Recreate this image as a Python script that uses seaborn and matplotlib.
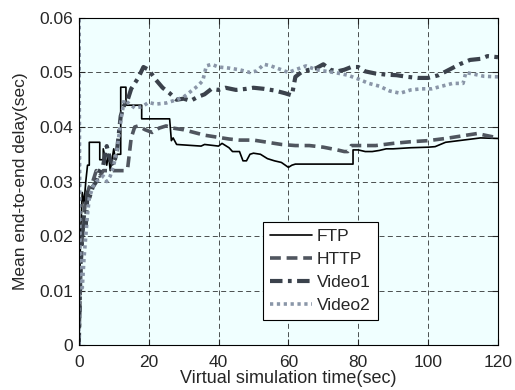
import pandas as pd
import matplotlib
matplotlib.use("Agg")
import matplotlib.pyplot as plt
import seaborn as sns

# series data (time in sec, mean end-to-end delay in sec)
ftp_t = [0, 0.5, 1, 1.5, 2, 2.5, 3, 3, 6, 6, 7, 7, 8, 8.5, 9, 9.5, 10, 10.5, 11, 12, 12,
         13.5, 13.5, 18, 18, 26, 26.5, 27, 28, 35, 36, 40, 41, 43, 44, 46, 47, 48, 49, 50,
         52, 54, 56, 58, 60, 61, 62, 78.5, 78.5, 80, 82, 84, 86, 88, 90, 95, 100, 102, 105,
         110, 115, 120]
ftp_v = [0.0, 0.02, 0.028, 0.026, 0.03, 0.033, 0.033, 0.0372, 0.0372, 0.034, 0.034, 0.036,
         0.033, 0.035, 0.032, 0.034, 0.036, 0.034, 0.035, 0.035, 0.0473, 0.0473, 0.044, 0.044,
         0.0415, 0.0415, 0.0375, 0.038, 0.0368, 0.0365, 0.0368, 0.0365, 0.037, 0.0362, 0.0355,
         0.0355, 0.0338, 0.0338, 0.035, 0.0352, 0.035, 0.0342, 0.0338, 0.0335, 0.0326, 0.033,
         0.0332, 0.0332, 0.0358, 0.0358, 0.0355, 0.0355, 0.0357, 0.036, 0.036, 0.0362, 0.0363,
         0.0364, 0.0372, 0.0376, 0.038, 0.0379]

http_t = [0, 0.5, 1, 1.5, 2, 3, 4, 5, 6, 7, 9, 11, 13, 14, 15, 16, 17, 19, 21, 23, 25, 27,
          30, 33, 36, 40, 43, 46, 50, 54, 58, 62, 66, 70, 74, 76, 77, 78, 81, 85, 90, 95,
          100, 105, 110, 114, 117, 120]
http_v = [0.0, 0.012, 0.02, 0.024, 0.027, 0.029, 0.03, 0.032, 0.031, 0.032, 0.032, 0.032,
          0.032, 0.0325, 0.038, 0.04, 0.0402, 0.0395, 0.039, 0.0398, 0.0402, 0.0398, 0.0395,
          0.039, 0.0385, 0.0381, 0.0378, 0.0376, 0.0376, 0.0372, 0.0368, 0.0366, 0.0366,
          0.0363, 0.0358, 0.0355, 0.0355, 0.0366, 0.0366, 0.0366, 0.037, 0.0373, 0.0375,
          0.0379, 0.0384, 0.0388, 0.0384, 0.038]

video1_t = [0, 0.5, 1, 1.5, 2, 2.5, 3, 4, 5, 6, 7, 8, 9, 10, 11, 12, 13, 14, 15, 17, 18.5,
            20, 22, 24, 26, 28, 30, 32, 34, 36, 38, 40, 42, 45, 48, 50, 53, 56, 59, 61, 62,
            64, 66, 68, 70, 72, 74, 76, 78, 80, 82, 85, 88, 91, 94, 97, 100, 103, 106, 109,
            112, 115, 117, 120]
video1_v = [0.0, 0.015, 0.02, 0.024, 0.022, 0.028, 0.027, 0.029, 0.03, 0.032, 0.033, 0.0365,
            0.034, 0.033, 0.036, 0.042, 0.044, 0.045, 0.047, 0.049, 0.051, 0.0505, 0.0487,
            0.0472, 0.0462, 0.045, 0.0452, 0.0448, 0.0455, 0.046, 0.047, 0.0468, 0.0472,
            0.0468, 0.047, 0.0472, 0.047, 0.0467, 0.0462, 0.0458, 0.0492, 0.0502, 0.0505,
            0.0508, 0.0515, 0.0505, 0.0502, 0.0505, 0.051, 0.051, 0.0502, 0.0498, 0.0496,
            0.0495, 0.0492, 0.049, 0.049, 0.0495, 0.0505, 0.0515, 0.0523, 0.0525, 0.053, 0.0528]

video2_t = [0, 0, 0.4, 1, 1.5, 2, 2.5, 3, 4, 5, 6, 7, 8, 9, 10, 11, 12, 13, 14, 16, 18, 20,
            22, 25, 28, 30, 32, 34, 35.5, 36.5, 38, 40, 43, 46, 49, 51, 53, 55, 58, 60, 62,
            65, 68, 71, 74, 77, 80, 83, 86, 89, 92, 95, 98, 101, 104, 107, 110, 110.8, 113,
            116, 120]
video2_v = [0.0, 0.062, 0.012, 0.0105, 0.016, 0.02, 0.024, 0.027, 0.029, 0.03, 0.0305, 0.031,
            0.03, 0.031, 0.033, 0.036, 0.041, 0.045, 0.0445, 0.0435, 0.0437, 0.0445, 0.0442,
            0.0444, 0.045, 0.0455, 0.0465, 0.0475, 0.0485, 0.0512, 0.0515, 0.051, 0.0508,
            0.0505, 0.05, 0.0503, 0.0515, 0.0512, 0.0505, 0.05, 0.0505, 0.0512, 0.0505,
            0.0502, 0.0499, 0.0495, 0.0488, 0.048, 0.0475, 0.0466, 0.0462, 0.0468, 0.047,
            0.047, 0.0475, 0.048, 0.048, 0.05, 0.0497, 0.0493, 0.0492]

sns.set_style("ticks")
plt.rcParams["font.family"] = ["Liberation Sans", "DejaVu Sans"]

fig = plt.figure(figsize=(5.15, 3.9), dpi=100)
ax = fig.add_axes([0.153, 0.115, 0.814, 0.839])
ax.set_facecolor("#f0ffff")

series = [
    ("FTP", ftp_t, ftp_v, "#000000", "-", 1.2),
    ("HTTP", http_t, http_v, "#50565f", (0, (3, 1.6)), 2.6),
    ("Video1", video1_t, video1_v, "#3b424c", (0, (3, 1.3, 0.9, 1.3)), 3.0),
    ("Video2", video2_t, video2_v, "#8a96a8", (0, (0.9, 1.0)), 2.6),
]
for name, t, v, c, ls, lw in series:
    df = pd.DataFrame({"t": t, "v": v})
    sns.lineplot(data=df, x="t", y="v", estimator=None, sort=False, ax=ax,
                 color=c, linestyle=ls, linewidth=lw, label=name)

ax.set_xlim(0, 120)
ax.set_ylim(0, 0.06)
ax.set_xticks([0, 20, 40, 60, 80, 100, 120])
ax.set_yticks([0, 0.01, 0.02, 0.03, 0.04, 0.05, 0.06])
ax.set_yticklabels(["0", "0.01", "0.02", "0.03", "0.04", "0.05", "0.06"])
ax.grid(True, color="black", linestyle=(0, (6, 4)), linewidth=0.6, alpha=0.8)
ax.tick_params(direction="in", top=True, right=True, labelsize=12.5, length=4, width=0.8)
ax.tick_params(axis="x", pad=7)
ax.tick_params(axis="y", pad=4)
for s in ax.spines.values():
    s.set_color("black")
    s.set_linewidth(0.8)
ax.set_xlabel("Virtual simulation time(sec)", fontsize=13, labelpad=0)
ax.set_ylabel("Mean end-to-end delay(sec)", fontsize=12.5, labelpad=8)

leg = ax.legend(loc="lower left", bbox_to_anchor=(0.44, 0.076), fontsize=12.5,
                frameon=True, fancybox=False, edgecolor="black", framealpha=1,
                handlelength=2.4, borderpad=0.4, labelspacing=0.45, handletextpad=0.3,
                borderaxespad=0)
leg.get_frame().set_linewidth(0.8)

fig.savefig("out.png", dpi=100)
